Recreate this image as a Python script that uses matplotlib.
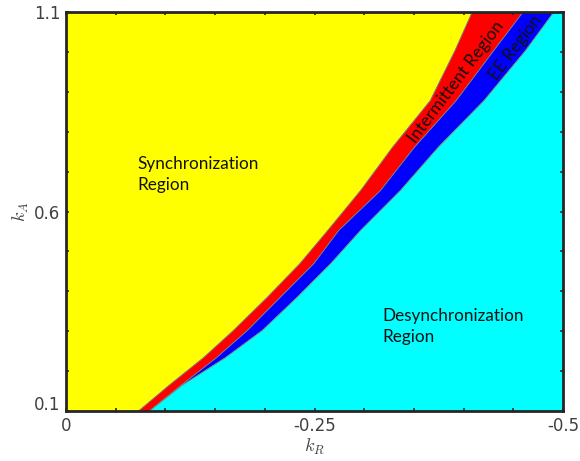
import matplotlib
matplotlib.use("Agg")
import matplotlib.pyplot as plt
import matplotlib.transforms as mtransforms

# Region boundaries (k_R values at given k_A)
kA = [0.100, 0.165, 0.235, 0.303, 0.386, 0.471, 0.554, 0.654, 0.762, 0.879, 1.005, 1.100]
sync_edge = [-0.072, -0.103, -0.138, -0.168, -0.202, -0.235, -0.263, -0.296, -0.328, -0.366, -0.391, -0.408]
inter_edge = [-0.083, -0.115, -0.151, -0.182, -0.215, -0.249, -0.274, -0.316, -0.350, -0.392, -0.430, -0.459]
ee_edge = [-0.083, -0.116, -0.160, -0.197, -0.232, -0.266, -0.296, -0.336, -0.374, -0.420, -0.462, -0.490]

x_ticks = [0, -0.25, -0.5]
x_ticklabels = ["0", "-0.25", "-0.5"]
y_ticks = [0.1, 0.6, 1.1]
y_ticklabels = ["0.1", "0.6", "1.1"]

plt.rcParams["mathtext.fontset"] = "cm"

fig = plt.figure(figsize=(5.8, 4.61), dpi=100)
ax = fig.add_axes([66 / 580, 1 - 411 / 461, (563 - 66) / 580, (411 - 12) / 461])

edge = dict(edgecolor="#7f7f7f", linewidth=0.6)
ax.fill_betweenx(kA, 0.0, sync_edge, facecolor="#FFFF00", **edge)
ax.fill_betweenx(kA, sync_edge, inter_edge, facecolor="#FF0000", **edge)
ax.fill_betweenx(kA, inter_edge, ee_edge, facecolor="#0000FF", **edge)
ax.fill_betweenx(kA, ee_edge, -0.5, facecolor="#00FFFF", **edge)

ax.set_xlim(0, -0.5)
ax.set_ylim(0.1, 1.1)

ax.set_xticks(x_ticks)
ax.set_xticklabels(x_ticklabels)
ax.set_yticks(y_ticks)
ax.set_yticklabels(y_ticklabels)
ax.set_xticks([-0.05 * i for i in range(1, 10) if i != 5], minor=True)
ax.set_yticks([0.1 + 0.1 * i for i in range(1, 10) if i != 5], minor=True)

ax.tick_params(which="both", direction="in", length=2.5, width=1.2, color="#262626",
               top=True, right=True, labelsize=12, labelcolor="#404040", pad=4)
for sp in ax.spines.values():
    sp.set_linewidth(2.0)
    sp.set_color("#262626")
    sp.set_zorder(5)

# nudge lowest y label upward like the reference
lbl = ax.get_yticklabels()[0]
lbl.set_transform(lbl.get_transform() + mtransforms.ScaledTranslation(0, 8 / 100, fig.dpi_scale_trans))

ax.set_xlabel(r"$k_R$", fontsize=13, color="#404040", labelpad=2)
ax.set_ylabel(r"$k_A$", fontsize=13, color="#404040", labelpad=2)

tfont = dict(family="Lato", fontsize=12.3, color="#111111")
ax.text(-0.0714, 0.693, "Synchronization\nRegion", ha="left", va="center", linespacing=1.4, **tfont)
ax.text(-0.318, 0.311, "Desynchronization\nRegion", ha="left", va="center", linespacing=1.4, **tfont)
ax.text(-0.392, 0.925, "Intermittent Region", ha="center", va="center", rotation=53, **tfont)
ax.text(-0.452, 1.01, "EE Region", ha="center", va="center", rotation=53, **tfont)

fig.savefig("out.png", dpi=100)
